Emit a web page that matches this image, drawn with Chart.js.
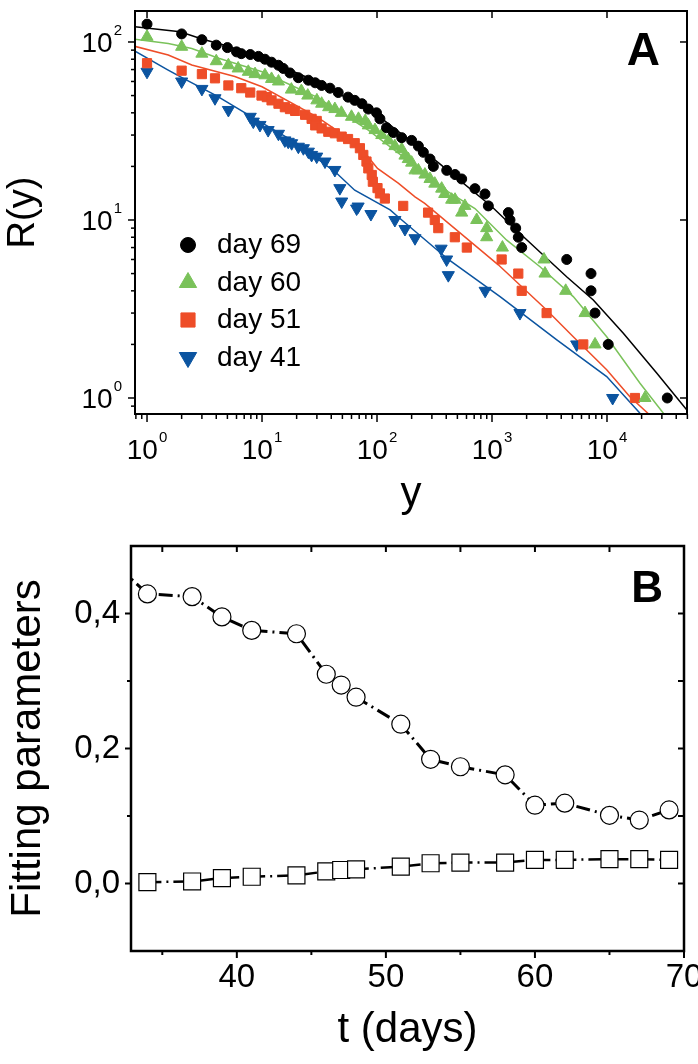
<!DOCTYPE html>
<html>
<head>
<meta charset="utf-8">
<script src="https://cdn.jsdelivr.net/npm/chart.js@4.4.0/dist/chart.umd.min.js"></script>
<style>
  html, body { margin: 0; padding: 0; background: #fff; }
  #wrap { position: relative; width: 698px; height: 1064px; overflow: hidden; }
  canvas { position: absolute; left: 0; }
  #chartA { top: 0; }
  #chartB { top: 530px; }
</style>
</head>
<body>
<div id="wrap">
  <canvas id="chartA" width="698" height="530"></canvas>
  <canvas id="chartB" width="698" height="534"></canvas>
</div>
<script>
const FONT = "'Liberation Sans', Arial, Helvetica, sans-serif";

// ---- panel A : R(y) against y, points as [y, R] ----
const day69 = [[1,126],[2,111],[3,103],[4,96],[5,93],[6,88],[6.6,86],[7.9,85],[9.3,83],[10.6,80],[12.1,77],[13.9,74],[15.3,71],[17.5,67],[20.7,63],[25.3,61],[29,59],[33,57],[39,55],[46,52],[56,49],[64,47],[74,45],[84,42],[99,40],[106,37],[121,33],[139,31],[164,29],[200,28],[229,26],[253,24],[289,22],[309,20],[404,19],[477,18],[545,17],[711,15],[869,14],[929,12],[1387,11],[1434,10],[1607,9],[1693,8],[1813,7],[4466,6],[7261,5],[7261,4],[7870,3],[10250,2],[33450,1]];
const day60 = [[1,107],[2,94],[3,86],[4,78],[5.1,74],[6.2,71],[7.6,68],[8.7,66],[10.6,65],[12.1,62],[13.9,60],[18,54],[22,53],[25,50],[30,47],[33,45],[38,43],[43,42],[49,40],[60,38],[69,37],[79,36],[84,34],[96,32],[110,30],[126,28],[143,26],[164,25],[175,23],[187,22],[200,21],[214,19],[229,19],[261,18],[289,17],[318,16],[365,15],[388,14],[446,13],[477,13],[545,11],[581,12],[736,10],[899,9],[899,8],[1232,7],[2833,6],[2890,5],[4375,4],[6440,3],[7870,2],[21400,1]];
const day51 = [[1,76],[2,69],[3,66],[3.9,62.5],[5.1,57],[6.6,55],[7.9,52],[9.9,50],[11,49],[12.1,47],[13.9,45],[15.8,43],[17.5,42],[19.4,41],[23.7,39],[27,37],[29.9,36],[29,34],[33,32.7],[37.7,31.3],[43,30.7],[49.3,29.4],[56,28.5],[64,27],[71,25.3],[76,23.2],[81,21.3],[84,19.5],[90,17.9],[92,16.4],[101,15.1],[106,14.1],[117,13.2],[169,12],[278,11],[318,10],[341,9],[475,8],[604,7],[1213,6],[1693,5],[1813,4],[2985,3],[6220,2],[17500,1]];
const day41 = [[1,68],[2,60],[3,54.5],[3.9,48.3],[5.1,41.5],[7.9,38],[8.4,35.7],[9.6,34.2],[11.3,32],[13.9,30.5],[15.8,28],[16.9,27.5],[18.1,27],[20.7,25.8],[22.9,25.3],[25.3,24.2],[27,23.2],[29.9,22.7],[35.3,21.3],[43,19.1],[47.5,15.1],[49.3,12.7],[66.5,11.6],[68.5,11.9],[88.5,10.8],[143,10],[175,8.9],[214,7.9],[361,6.9],[403,6],[417,4.9],[872,4],[1750,3],[5450,2],[11200,1]];

// fitted curves
const fit69 = [[0.76,122],[1.94,114],[3,104],[5,95],[10,81],[30,60],[100,39],[341,21],[993,11.9],[1750,8.4],[4457,4.8],[7600,3.55],[13870,2.31],[27040,1.38],[49300,0.86]];
const fit60 = [[0.76,104],[1.53,98],[2.45,92],[4.2,81],[10,68],[30,49],[84,32],[229,19.5],[417,14.4],[711,11.6],[1343,7.7],[2614,5.46],[5090,3.71],[9940,2.21],[19360,1.21],[31920,0.8]];
const fit51 = [[0.76,95],[1.53,84.5],[2.45,74.3],[5.8,64],[10,56],[30,38],[60,28],[80,23.5],[101,19.5],[153,16.1],[214,13.5],[260,12.4],[417,9.6],[711,7.2],[1134,5.6],[2985,3.12],[5090,2.21],[9940,1.44],[15750,1.02],[23650,0.8]];
const fit41 = [[0.76,90],[1.5,70],[2.07,62.5],[4,50],[9,36.5],[20,27],[44.6,18.3],[64,14.7],[130,11.4],[153,10.4],[417,6.0],[1183,3.7],[3660,2.12],[9940,1.32],[19360,0.82]];

const dayLabels = ['day 69', 'day 60', 'day 51', 'day 41'];
const xDecadesA = [0, 1, 2, 3, 4];
const yDecadesA = [0, 1, 2];

// ---- panel B : fitting parameters against t ----
const circleT = [32, 34, 37, 39, 41, 44, 46, 47, 48, 51, 53, 55, 58, 60, 62, 65, 67, 69];
const circleP = [0.47, 0.429, 0.425, 0.395, 0.375, 0.370, 0.310, 0.294, 0.276, 0.236, 0.184, 0.173, 0.161, 0.116, 0.119, 0.101, 0.094, 0.109];
const squareT = [34, 37, 39, 41, 44, 46, 47, 48, 51, 53, 55, 58, 60, 62, 65, 67, 69];
const squareP = [0.002, 0.003, 0.008, 0.010, 0.012, 0.018, 0.020, 0.021, 0.025, 0.030, 0.031, 0.031, 0.035, 0.035, 0.036, 0.036, 0.035];
const tTickLabels = [40, 50, 60, 70];
const pTickLabels = [0, 0.2, 0.4];

Chart.defaults.font.family = FONT;
Chart.defaults.color = '#000';

const pts = arr => arr.map(([x, y]) => ({x, y}));
const zip = (xs, ys) => xs.map((x, i) => ({x, y: ys[i]}));

const colors = ['#000000', '#7ac25a', '#ee4d28', '#0b54a0'];
const styles = [
  {pointStyle: 'circle', pointRotation: 0, pointRadius: 5},
  {pointStyle: 'triangle', pointRotation: 0, pointRadius: 7},
  {pointStyle: 'rect', pointRotation: 0, pointRadius: 6.5},
  {pointStyle: 'triangle', pointRotation: 180, pointRadius: 7}
];

// frame round the plot plus tick marks (positive len = outward)
const framePlugin = {
  id: 'frame',
  afterDraw(chart, args, o) {
    const {ctx, chartArea: a, scales} = chart;
    ctx.save();
    ctx.strokeStyle = '#000';
    ctx.lineWidth = o.tickWidth;
    o.marks.forEach(m => {
      const sc = scales[m.axis];
      m.values.forEach(v => {
        const p = sc.getPixelForValue(v);
        if (m.axis === 'x' && (p < a.left - 1 || p > a.right + 1)) return;
        if (m.axis === 'y' && (p < a.top - 1 || p > a.bottom + 1)) return;
        ctx.beginPath();
        if (m.edge === 'bottom') { ctx.moveTo(p, a.bottom); ctx.lineTo(p, a.bottom + m.len); }
        if (m.edge === 'top') { ctx.moveTo(p, a.top); ctx.lineTo(p, a.top - m.len); }
        if (m.edge === 'left') { ctx.moveTo(a.left, p); ctx.lineTo(a.left - m.len, p); }
        if (m.edge === 'right') { ctx.moveTo(a.right, p); ctx.lineTo(a.right + m.len, p); }
        ctx.stroke();
      });
    });
    ctx.lineWidth = o.lineWidth;
    ctx.strokeRect(a.left, a.top, a.right - a.left, a.bottom - a.top);
    // panel letter
    ctx.fillStyle = '#000';
    ctx.font = `bold ${o.letterSize}px ${FONT}`;
    ctx.textAlign = 'right';
    ctx.textBaseline = 'alphabetic';
    ctx.fillText(o.letter, a.right - o.letterDx, a.top + o.letterDy);
    ctx.restore();
  }
};

// 10^n tick labels for the log axes of panel A
const powLabels = {
  id: 'powLabels',
  afterDraw(chart, args, o) {
    const {ctx, chartArea: a, scales: {x, y}} = chart;
    const big = `${o.size}px ${FONT}`, small = `${o.supSize}px ${FONT}`;
    ctx.save();
    ctx.fillStyle = '#000';
    ctx.textBaseline = 'alphabetic';
    ctx.textAlign = 'left';
    o.xExp.forEach(n => {
      const px = x.getPixelForValue(Math.pow(10, n));
      ctx.font = big; const w1 = ctx.measureText('10').width;
      ctx.font = small; const w2 = ctx.measureText(String(n)).width;
      const left = px - (w1 + w2 + 1) / 2;
      ctx.font = big; ctx.fillText('10', left, a.bottom + 45);
      ctx.font = small; ctx.fillText(String(n), left + w1 + 1, a.bottom + 28);
    });
    ctx.textAlign = 'right';
    o.yExp.forEach(n => {
      const py = y.getPixelForValue(Math.pow(10, n));
      const right = a.left - 13;
      ctx.font = small; ctx.fillText(String(n), right, py - 7);
      const w2 = ctx.measureText(String(n)).width;
      ctx.font = big; ctx.fillText('10', right - w2 - 1, py + 10.5);
    });
    ctx.restore();
  }
};

// legend inside panel A
const legendA = {
  id: 'legendA',
  afterDraw(chart, args, o) {
    const {ctx, chartArea: a} = chart;
    ctx.save();
    chart.data.datasets.filter(d => d.label).forEach((d, i) => {
      const base = a.top + o.top + i * o.step;
      ctx.fillStyle = d.backgroundColor;
      ctx.strokeStyle = d.borderColor;
      Chart.helpers.drawPoint(ctx, {pointStyle: d.pointStyle, rotation: d.pointRotation, radius: o.radius[i], borderWidth: 1},
        a.left + o.markX, base - 8);
      ctx.fillStyle = '#000';
      ctx.font = `${o.size}px ${FONT}`;
      ctx.textAlign = 'left';
      ctx.textBaseline = 'alphabetic';
      ctx.fillText(d.label, a.left + o.textX, base);
    });
    ctx.restore();
  }
};

const minorLog = (lo, hi) => {
  const out = [];
  for (let d = lo; d <= hi; d++) for (let k = 2; k <= 9; k++) out.push(k * Math.pow(10, d));
  return out;
};
const decadeVals = ds => ds.map(n => Math.pow(10, n));

const pointSets = [day69, day60, day51, day41].map((arr, i) => Object.assign({
  label: dayLabels[i],
  data: pts(arr),
  backgroundColor: colors[i],
  borderColor: colors[i],
  pointBorderWidth: 1
}, styles[i]));
const fitSets = [fit69, fit60, fit51, fit41].map((arr, i) => ({
  data: pts(arr),
  showLine: true,
  borderColor: colors[i],
  borderWidth: 1.5,
  pointRadius: 0,
  tension: 0
}));

new Chart(document.getElementById('chartA'), {
  type: 'scatter',
  data: {datasets: pointSets.concat(fitSets)},
  options: {
    responsive: false,
    animation: false,
    layout: {padding: {left: 0, top: 11, right: 11, bottom: 0}},
    plugins: {
      legend: {display: false},
      tooltip: {enabled: false},
      frame: {
        lineWidth: 2, tickWidth: 1.5, letter: 'A', letterSize: 46, letterDx: 27, letterDy: 54,
        marks: [
          {axis: 'x', edge: 'bottom', values: decadeVals(xDecadesA), len: 8},
          {axis: 'x', edge: 'bottom', values: minorLog(-1, 4), len: 5},
          {axis: 'x', edge: 'top', values: decadeVals(xDecadesA), len: -7},
          {axis: 'y', edge: 'left', values: decadeVals(yDecadesA), len: 7},
          {axis: 'y', edge: 'left', values: minorLog(-1, 2), len: 4},
          {axis: 'y', edge: 'right', values: decadeVals(yDecadesA), len: -7}
        ]
      },
      powLabels: {size: 28, supSize: 15, xExp: xDecadesA, yExp: yDecadesA},
      legendA: {size: 28, top: 242, step: 37.5, markX: 53, textX: 82, radius: [7.5, 10, 10, 10]}
    },
    scales: {
      x: {
        type: 'logarithmic', min: 0.786, max: 49630,
        grid: {display: false, drawTicks: false}, border: {display: false},
        ticks: {display: false},
        title: {display: true, text: 'y', font: {size: 42}, padding: {top: 0, bottom: 10}},
        afterFit: s => { s.height = 116; s.paddingLeft = 0; s.paddingRight = 0; }
      },
      y: {
        type: 'logarithmic', min: 0.813, max: 149.3,
        grid: {display: false, drawTicks: false}, border: {display: false},
        ticks: {display: false},
        title: {display: true, text: 'R(y)', font: {size: 38}, padding: {top: 1, bottom: 0}},
        afterFit: s => { s.width = 135; s.paddingTop = 0; s.paddingBottom = 0; }
      }
    }
  },
  plugins: [framePlugin, powLabels, legendA]
});

const near = (v, list) => list.some(l => Math.abs(l - v) < 1e-6);
const commaLabel = v => Math.abs(v).toFixed(1).replace('.', ',');

new Chart(document.getElementById('chartB'), {
  type: 'scatter',
  data: {
    datasets: [
      {
        data: zip(circleT, circleP),
        showLine: true,
        borderColor: '#000',
        borderWidth: 3,
        borderDash: [14, 5, 2, 5],
        pointStyle: 'circle',
        pointRadius: c => (c.raw && c.raw.x < 33 ? 0 : 9),
        pointBackgroundColor: '#fff',
        pointBorderColor: '#000',
        pointBorderWidth: 1.2,
        tension: 0
      },
      {
        data: zip(squareT, squareP),
        showLine: true,
        borderColor: '#000',
        borderWidth: 2.5,
        borderDash: [14, 5, 2, 5],
        pointStyle: 'rect',
        pointRadius: 12,
        pointBackgroundColor: '#fff',
        pointBorderColor: '#000',
        pointBorderWidth: 1.2,
        tension: 0
      }
    ]
  },
  options: {
    responsive: false,
    animation: false,
    layout: {padding: {left: 0, top: 16, right: 14, bottom: 0}},
    plugins: {
      legend: {display: false},
      tooltip: {enabled: false},
      frame: {
        lineWidth: 2.5, tickWidth: 2, letter: 'B', letterSize: 44, letterDx: 21, letterDy: 56,
        marks: [
          {axis: 'x', edge: 'bottom', values: tTickLabels, len: 7},
          {axis: 'x', edge: 'bottom', values: [35, 45, 55, 65], len: 4},
          {axis: 'x', edge: 'top', values: [35, 40, 45, 50, 55, 60, 65], len: -6},
          {axis: 'y', edge: 'left', values: pTickLabels, len: 6},
          {axis: 'y', edge: 'left', values: [0.1, 0.3], len: 4},
          {axis: 'y', edge: 'right', values: [0, 0.1, 0.2, 0.3, 0.4], len: -6}
        ]
      }
    },
    scales: {
      x: {
        type: 'linear', min: 32.9, max: 70,
        grid: {display: false, drawTicks: false}, border: {display: false},
        ticks: {
          stepSize: 5, autoSkip: false, maxRotation: 0, padding: 7,
          font: {size: 33},
          callback: v => (near(v, tTickLabels) ? String(Math.round(v)) : '')
        },
        title: {display: true, text: 't (days)', font: {size: 42}, padding: {top: 0, bottom: 8}},
        afterFit: s => { s.height = 113; s.paddingLeft = 0; s.paddingRight = 0; }
      },
      y: {
        type: 'linear', min: -0.1, max: 0.5,
        grid: {display: false, drawTicks: false}, border: {display: false},
        ticks: {
          stepSize: 0.1, autoSkip: false, padding: 11,
          font: {size: 33},
          callback: v => (near(v, pTickLabels) ? commaLabel(v) : '')
        },
        title: {display: true, text: 'Fitting parameters', font: {size: 42}, padding: {top: 3, bottom: 0}},
        afterFit: s => { s.width = 131; s.paddingTop = 0; s.paddingBottom = 0; }
      }
    }
  },
  plugins: [framePlugin]
});
</script>
</body>
</html>
